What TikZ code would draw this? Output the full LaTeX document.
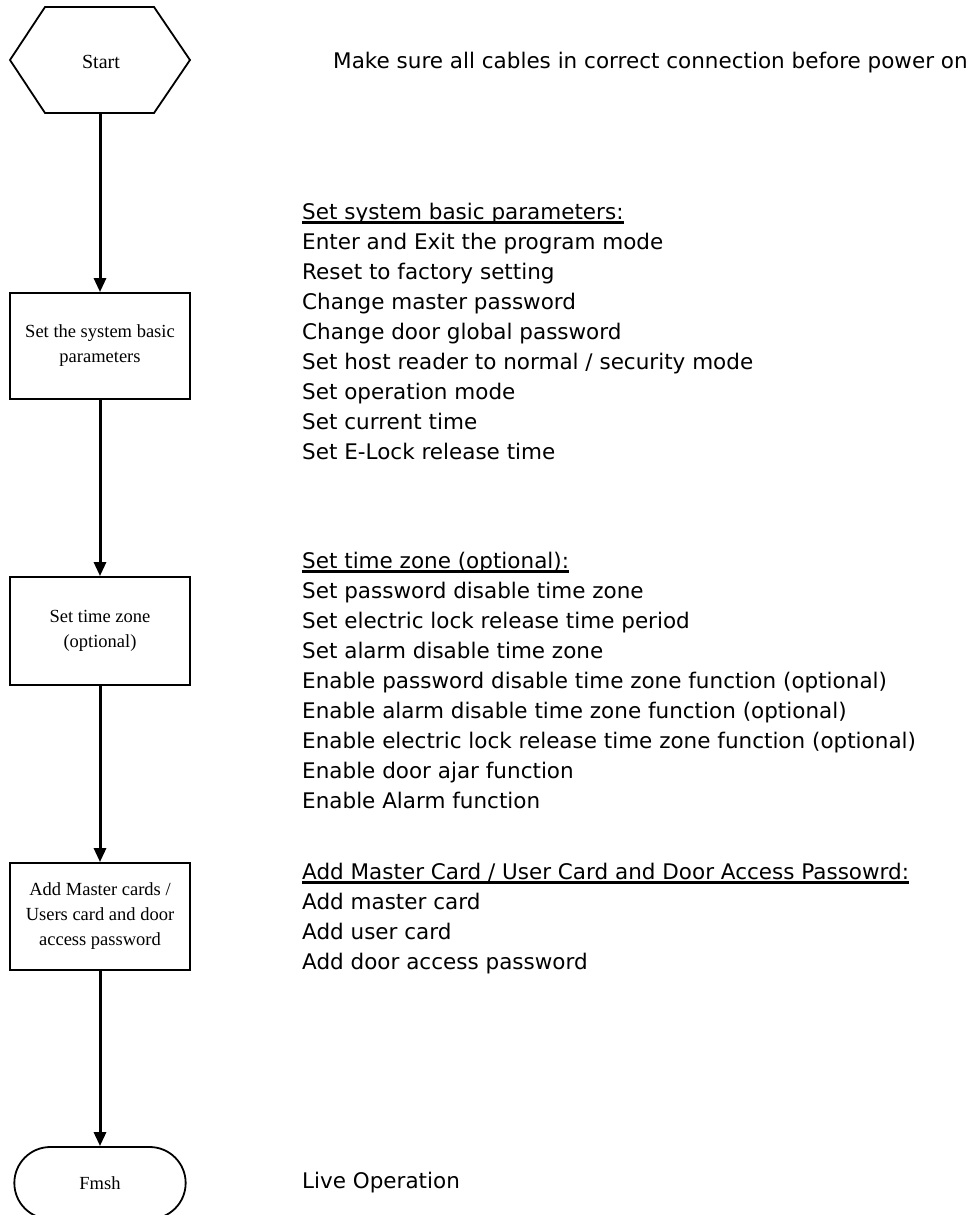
\documentclass[tikz,border=0pt]{standalone}
\usepackage{fontspec}
\setmainfont{Liberation Serif}
\newfontfamily\dvs{DejaVu Sans}
\usetikzlibrary{arrows.meta,shapes.misc,calc}
\begin{document}
\begin{tikzpicture}[x=1pt,y=-1pt,
  txt/.style={font=\dvs\fontsize{21.5}{30}\selectfont, anchor=base west, inner sep=0pt},
  lbl/.style={font=\fontsize{18.5}{25}\selectfont, align=center},
  boxnode/.style={draw, line width=1.8pt, minimum width=180pt, inner sep=0pt},
  arr/.style={line width=3pt, -{Triangle[length=14pt,width=12pt]}},
  uline/.style={line width=2.2pt}]
\useasboundingbox (0,0) rectangle (975,1215);
\clip (0,0) rectangle (975,1215);
% start hexagon
\draw[line width=1.8pt] (45,7) -- (154,7) -- (190,60) -- (154,113) -- (45,113) -- (10,60) -- cycle;
\node[lbl, font=\fontsize{20}{25}\selectfont] (start) at (101,62) {Start};
\coordinate (sb) at (100,113);
% process boxes
\node[boxnode, lbl, minimum height=106pt] (b1) at (100,346) {Set the system basic\\parameters};
\node[boxnode, lbl, minimum height=108pt] (b2) at (100,631) {Set time zone\\(optional)};
\node[boxnode, lbl, minimum height=107pt] (b3) at (100,916.5) {Add Master cards /\\Users card and door\\access password};
\node[draw, line width=1.8pt, rounded rectangle, minimum width=178pt, minimum height=72pt, lbl] (fin) at (100,1183) {Fmsh};
% connectors
\draw[arr] (sb) -- (b1.north);
\draw[arr] (b1.south) -- (b2.north);
\draw[arr] (b2.south) -- (b3.north);
\draw[arr] (b3.south) -- (fin.north);
% right texts
\node[txt] (note) at (333,68) {Make sure all cables in correct connection before power on};
\node[txt] (h1) at (302,219) {Set system basic parameters:};
\draw[uline] ($(h1.base west)+(0,3.5)$) -- ($(h1.base east)+(0,3.5)$);
\foreach \t [count=\i] in {{Enter and Exit the program mode},{Reset to factory setting},{Change master password},{Change door global password},{Set host reader to normal / security mode},{Set operation mode},{Set current time},{Set E-Lock release time}}
  \node[txt] (sa\i) at (302,219+30*\i) {\t};
\node[txt] (h2) at (302,568) {Set time zone (optional):};
\draw[uline] ($(h2.base west)+(0,3.5)$) -- ($(h2.base east)+(0,3.5)$);
\foreach \t [count=\i] in {{Set password disable time zone},{Set electric lock release time period},{Set alarm disable time zone},{Enable password disable time zone function (optional)},{Enable alarm disable time zone function (optional)},{Enable electric lock release time zone function (optional)},{Enable door ajar function},{Enable Alarm function}}
  \node[txt] (sb\i) at (302,568+30*\i) {\t};
\node[txt] (h3) at (302,879) {Add Master Card / User Card and Door Access Passowrd:};
\draw[uline] ($(h3.base west)+(0,3.5)$) -- ($(h3.base east)+(0,3.5)$);
\foreach \t [count=\i] in {{Add master card},{Add user card},{Add door access password}}
  \node[txt] (sc\i) at (302,879+30*\i) {\t};
\node[txt] (live) at (302,1188) {Live Operation};
\end{tikzpicture}
\end{document}
